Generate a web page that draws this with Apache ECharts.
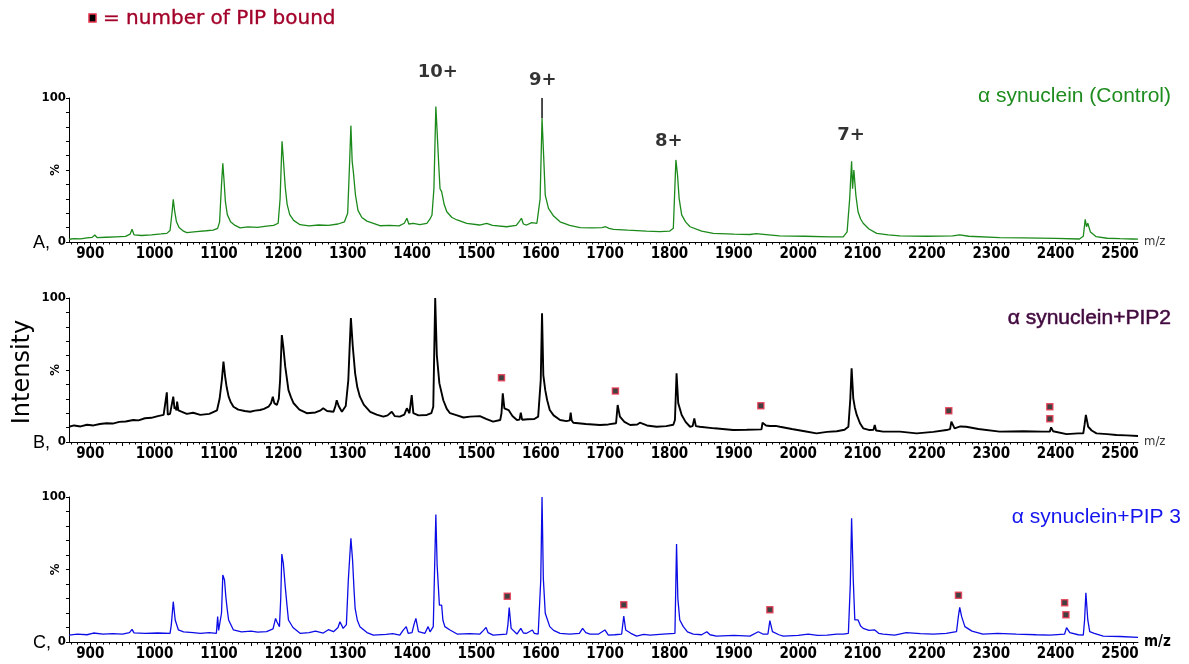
<!DOCTYPE html>
<html>
<head>
<meta charset="utf-8">
<title>alpha synuclein + PIP</title>
<script src="https://cdn.jsdelivr.net/npm/echarts@6/dist/echarts.min.js"></script>
<style>
  html, body { margin: 0; padding: 0; background: #fff; }
  #chart { width: 1189px; height: 664px; }
</style>
</head>
<body>
<div id="chart"></div>
<script>
// axis labels
var xLabels = [900, 1000, 1100, 1200, 1300, 1400, 1500, 1600, 1700, 1800, 1900, 2000, 2100, 2200, 2300, 2400, 2500];
var yLabels = [0, 100];

var panelNames = ['α synuclein (Control)', 'α synuclein+PIP2', 'α synuclein+PIP 3'];
var panelLetters = ['A,', 'B,', 'C,'];

// spectra: [m/z, % intensity]
var specA = [
  [867,1.9],[875,2.4],[885,2.1],[895,2.8],[903,3.2],[907,4.9],[911,3.0],[925,3.3],[940,3.6],[955,3.9],[962,5.5],[965,8.8],[968,5.0],
  [980,4.5],[995,5.0],[1010,5.6],[1019,6.0],[1024,8],[1027,20],[1029,29.6],[1031,22],[1034,14],[1038,10],[1045,7.5],[1050,6.5],
  [1065,7.2],[1080,7.8],[1091,8.3],[1098,9.5],[1101,14],[1104,40],[1106,54.6],[1108,42],[1110,28],[1113,19],[1118,14],[1125,11.5],
  [1133,9.8],[1145,10.5],[1160,10.2],[1174,11],[1185,11.5],[1192,13],[1195,30],[1198,70],[1200,58],[1203,38],[1206,26],[1210,19],
  [1216,15],[1226,12],[1240,11.2],[1255,11.8],[1270,11.5],[1285,12.5],[1295,14],[1300,20],[1303,55],[1305,80.8],[1307,56],[1309,48],
  [1312,33],[1316,22],[1322,17],[1330,14.5],[1340,13],[1350,11.3],[1365,11.6],[1380,11.2],[1388,13],[1392,16.5],[1395,12.5],[1402,13],
  [1412,12],[1423,13],[1428,16],[1431,18.8],[1434,37],[1437,94],[1439,76.6],[1441.5,53.5],[1443.5,37],[1446,35],[1450,26],[1454,21],
  [1462,17],[1470,15.3],[1485,13],[1505,11.8],[1516,13],[1525,11.5],[1547,10.6],[1562,11.5],[1567,14.5],[1570,16.5],[1573,12.5],
  [1578,11.8],[1586,13.5],[1594,13],[1599,30],[1602,86],[1604,65],[1607,32.6],[1612,23.4],[1620,18],[1630,14],[1645,11.5],[1661,10],
  [1680,9.8],[1695,10],[1701,10.6],[1706,9.5],[1713,8.8],[1735,8.2],[1764,7.6],[1785,7.2],[1800,7.5],[1806,9.5],[1810,57],[1812.5,46.5],
  [1815,30.3],[1819,18.8],[1825,14],[1832,10.6],[1850,7.5],[1868,6],[1900,5.5],[1925,5.2],[1935,5.8],[1938,6.5],[1942,5.5],[1971,4.2],
  [2010,4],[2049,3.5],[2070,3.6],[2076,7],[2080,30],[2083,56],[2084.5,37],[2086.5,50],[2089.6,32.6],[2093,21],[2097,16],[2101,13],
  [2110,9],[2122,6],[2140,5],[2158,4.2],[2200,4],[2240,4.3],[2251,4.9],[2265,4],[2313,3],[2350,2.8],[2400,2.5],[2437,2.1],[2443,4],
  [2446,15.7],[2448,10.6],[2450,13],[2454,7],[2458,5.5],[2463,3.7],[2480,2.6],[2500,2.3],[2520,2.1],[2528,2.0]
];
var tipA = [[1602, 86], [1602, 100]]; // black top of the 9+ peak

var specB = [
  [867,10.6],[875,11.5],[885,10.8],[895,12],[905,11.5],[915,12.5],[925,13],[935,12.8],[945,14],[955,14.2],[967,15.3],[975,15],
  [985,16.5],[995,16.8],[1005,18],[1014,18.8],[1017,20],[1019,34.5],[1020.5,19],[1024,19.5],[1027,20],[1029,31.5],[1031,23],
  [1032,24.5],[1034,22],[1035,28],[1037,22],[1040,21],[1050,19.5],[1060,20.3],[1071,18.8],[1085,19.5],[1097,22],[1101,30],
  [1104.5,43],[1107,55.8],[1109.6,45.4],[1112,38],[1115,31.5],[1118,28],[1122.5,24.5],[1130,22.5],[1140,21.5],[1148.5,21],
  [1156,21.8],[1164,22.2],[1170,23],[1177,24.5],[1181,27],[1183.7,31.5],[1186,27],[1190,25.7],[1193,30],[1195,43],[1197.7,74.3],
  [1200,66],[1203,52.3],[1208,36],[1212,31],[1216,26.9],[1225,22.5],[1236.5,20],[1250,20.5],[1258,22],[1262,23.4],[1268,21.5],
  [1278,21],[1281,25],[1283,29],[1286,25],[1291,21],[1297,25],[1301,43],[1303,65],[1305,86],[1308,66],[1311.6,47.7],[1315,38],
  [1319,31.5],[1325,26],[1335,21],[1345,19],[1355.5,17.6],[1362,18.5],[1368.5,21],[1373,18],[1381,17.6],[1388,19],[1392,23.4],
  [1396,20],[1399.5,32.6],[1402,20],[1410,18.5],[1423,18.8],[1430,20],[1433,24.5],[1436,100],[1438.5,60.4],[1442.5,40.7],
  [1448.6,29],[1454,23],[1459,20],[1470,18.5],[1480,17],[1490,17.6],[1505.5,18],[1515,16],[1526,14.1],[1537,15.3],[1539,20],
  [1541,33.8],[1543.5,23.4],[1550,22.2],[1556,18],[1563,15.3],[1567,15.5],[1569,20.4],[1571,15.5],[1580,15.8],[1590,16],
  [1596,17.6],[1600,43],[1602,89.4],[1604,46.5],[1607,36],[1610,29],[1614,22.2],[1620,18.5],[1630,15.3],[1640,14.5],[1645,15],
  [1646.5,20.4],[1648,15],[1650.6,13.4],[1670,12.5],[1692,11.8],[1705,12.2],[1717,13],[1719.5,25.7],[1723,17.6],[1730,14],
  [1739,11.8],[1750,12.2],[1754,13.4],[1765,11.5],[1780,10.6],[1795,11],[1806,12],[1808.5,15.3],[1811,47.7],[1813.6,27],
  [1819,18.8],[1825,14],[1832,10.6],[1836,11],[1838.6,16.4],[1841,11],[1847,10.6],[1870,9.5],[1899,8.3],[1920,8.5],[1943,8.8],
  [1944.6,13.4],[1950,11.5],[1956,11.1],[1965,11.2],[1971.6,10.6],[1990,9],[2010,7.5],[2028.5,6],[2045,7],[2060,7.5],[2072,8.5],
  [2078,10.6],[2081,30],[2083,51.2],[2085.6,30.3],[2088,24],[2091,18.8],[2096,13],[2101,9.5],[2111,8.3],[2117,8.5],[2119,11.8],
  [2121,8],[2132,7.2],[2158,7.2],[2184,6],[2210,7],[2230.5,8.3],[2236,9],[2238,14.1],[2243,9.5],[2252,10.8],[2261,10.6],[2280,9],
  [2313,7.2],[2350,7.5],[2380,7.2],[2391,7.2],[2393,10.2],[2396,7.5],[2417,5.5],[2435,6],[2443,6],[2445,12],[2447,18.8],
  [2450.6,10.6],[2456,8],[2463.5,6],[2480,5.5],[2494.6,4.9],[2510,4.6],[2528,4.2]
];

var specC = [
  [867,4.8],[880,5.5],[895,5.0],[905,6.2],[920,5.4],[935,5.8],[950,5.5],[961,6.5],[965,8.7],[968,6.3],[985,6],[1005,6.2],[1024,6],
  [1026,12],[1029,27.8],[1032,15.2],[1037,8.3],[1045,7],[1060,6.5],[1071,6],[1085,6.4],[1096,6],[1098,17.5],[1099.5,8],[1101,7.1],
  [1104,20],[1106,46.2],[1108.6,42.8],[1110.7,31.2],[1113,22],[1115,15.2],[1122.5,8.3],[1135,7],[1150,7.5],[1160,6.8],[1174,7.1],
  [1184,9],[1188,16.3],[1190,14],[1194,10.6],[1196,30],[1197.7,60.7],[1200,54.3],[1203,38.2],[1206,24],[1208,15.2],[1215,10],
  [1226,6],[1240,6.5],[1250,7.5],[1262,6.2],[1270,8.5],[1278,7.1],[1285,10],[1288,14],[1293,9.4],[1298,12],[1301,42.8],[1305,71.5],
  [1307.6,56.6],[1310,35],[1311.6,23.2],[1315,15],[1319,10.6],[1330,6.5],[1340,4.8],[1360,5.2],[1370,5.8],[1381,4.8],[1386,8],
  [1391,10.6],[1394,6],[1400,6.5],[1403,12],[1406,16.3],[1410,7.1],[1420,6],[1425,10.6],[1428,7],[1433,10.6],[1437,88],[1439,53.1],
  [1442.5,25.5],[1446,25.5],[1448,15],[1451,10.6],[1459,8.3],[1470,5.5],[1490,5.8],[1505.5,5.5],[1511,8],[1515,10.1],[1518,6.5],
  [1526,4.8],[1547,5.5],[1549,12],[1551,23.7],[1554,9.4],[1563,5.5],[1569,9.4],[1573,6.2],[1578,6],[1587,8.3],[1590,6],[1596,5.5],
  [1600,42.8],[1602,100],[1604,43.9],[1607,19.8],[1610,19.8],[1614,10.6],[1620,8],[1630,6],[1645,5.5],[1660,6],[1665,9.4],
  [1670,6.5],[1676.5,5.5],[1690,5.5],[1699.7,8.3],[1705,4.8],[1715,5],[1725.7,5.5],[1729,17.9],[1732,8.3],[1740,6],[1749,4.1],
  [1760,5.2],[1770,4.8],[1790,5.5],[1808.5,6],[1811,67.6],[1813,30.1],[1816,15.2],[1821.5,10.6],[1828,7],[1837,5.5],[1850,5],
  [1858,7.1],[1863,5],[1873,4.1],[1900,4.5],[1925,4.1],[1938,7.1],[1945,5.5],[1953,5.5],[1956,14.7],[1960,7.1],[1970,5],[1977,4.1],
  [2000,4.5],[2015.5,5.5],[2030,4.5],[2045,4.8],[2060,5.5],[2070,5.5],[2078,6],[2081,40],[2083,85.3],[2085.6,42.8],[2088,15.2],
  [2093,15.2],[2097,11],[2101,9.4],[2110,8],[2119,8.3],[2125,6],[2132,5.5],[2150,4.8],[2168,6.4],[2190,5.8],[2210,5.5],[2230,6],
  [2246,7.1],[2249,18],[2251,23.9],[2254,17.5],[2259,10.6],[2270,7.5],[2287,5.5],[2310,6],[2339,5.5],[2370,5],[2391,4.8],
  [2414,5.5],[2417,9.9],[2422,6.4],[2435,5],[2443,4.8],[2445,15],[2447,34],[2450,15.2],[2453,7.1],[2460,6],[2474,4.1],[2500,3.8],
  [2528,3.2]
];

// charge states over the control spectrum
var chargeStates = ['10+', '9+', '8+', '7+'];
var chargePos = [[1440, 118], [1603, 112], [1799, 70], [2082, 74]];

// "number of PIP bound" squares
var pipB = [[1539, 44.7], [1716, 35.4], [1942, 25.2], [2234, 21.7], [2391, 24.5], [2391, 16.2]];
var pipC = [[1548, 31.5], [1729, 25.7], [1956, 22.3], [2249, 32.2], [2414, 27.1], [2416, 18.8]];

var XMIN = 867, XMAX = 2528;
var narrow = "'Liberation Sans Narrow', 'DejaVu Sans Condensed', 'Liberation Sans', sans-serif";
var arial = "'Liberation Sans', Arial, sans-serif";

var ticks50 = [], ticks10 = [], yTicks = [];
for (var t = 870; t <= 2520; t += 10) {
  if (t % 50 === 0) ticks50.push(t); else ticks10.push(t);
}
for (var k = 0; k <= 100; k += 10) yTicks.push(k);

var gridTops = [98, 298, 497];
var gridHeights = [144, 144, 145];
var lineColors = ['#1b8a1b', '#000000', '#0c0ce6'];
var lineWidths = [1.3, 1.9, 1.3];
var titleColors = ['#1e8c1e', '#3e0c3c', '#1414ee'];
var titleY = [96, 318, 517];

function plain(v) { return String(v); }

var grids = [], xAxes = [], yAxes = [];
gridTops.forEach(function (top, i) {
  grids.push({ left: 69, width: 1069, top: top, height: gridHeights[i] });
  var last = i === 2;
  xAxes.push({
    type: 'value', gridIndex: i, position: 'bottom', min: XMIN, max: XMAX,
    axisLine: { onZero: false, lineStyle: { color: '#000', width: 1 } },
    axisTick: { customValues: ticks50, length: 4, lineStyle: { color: '#000' } },
    axisLabel: { customValues: xLabels, formatter: plain, color: '#000', fontWeight: 'bold', fontSize: 15,
                 fontFamily: narrow, margin: 5 },
    splitLine: { show: false },
    name: 'm/z', nameLocation: 'end', nameGap: 6,
    nameTextStyle: last
      ? { color: '#000', fontWeight: 'bold', fontSize: 15, fontFamily: narrow }
      : { color: '#333', fontSize: 13, fontFamily: narrow }
  });
  xAxes.push({
    type: 'value', gridIndex: i, position: 'bottom', min: XMIN, max: XMAX,
    axisLine: { show: false },
    axisTick: { customValues: ticks10, length: 2.5, lineStyle: { color: '#000' } },
    axisLabel: { show: false },
    splitLine: { show: false }
  });
  yAxes.push({
    type: 'value', gridIndex: i, position: 'left', min: 0, max: 100,
    axisLine: { show: true, lineStyle: { color: '#000', width: 1 } },
    axisTick: { show: true, customValues: yTicks, length: 3, lineStyle: { color: '#000' } },
    axisLabel: { customValues: yLabels, formatter: plain, color: '#000', fontWeight: 'bold', fontSize: 13,
                 fontFamily: narrow, margin: 3 },
    splitLine: { show: false },
    name: '%', nameLocation: 'middle', nameGap: 7, nameRotate: 90, nameMoveOverlap: false,
    nameTextStyle: { color: '#000', fontWeight: 'bold', fontSize: 13, fontFamily: narrow }
  });
});

function spectrum(data, i) {
  return {
    type: 'line', xAxisIndex: i * 2, yAxisIndex: i, data: data,
    showSymbol: false, symbol: 'none', clip: true,
    lineStyle: { color: lineColors[i], width: lineWidths[i] }
  };
}
function pipSeries(data, i) {
  return {
    type: 'scatter', xAxisIndex: i * 2, yAxisIndex: i, data: data,
    symbol: 'rect', symbolSize: 6, clip: false, z: 5,
    itemStyle: { color: '#111', borderColor: '#e8324c', borderWidth: 1.5 }
  };
}

var series = [
  spectrum(specA, 0),
  { type: 'line', xAxisIndex: 0, yAxisIndex: 0, data: tipA, symbol: 'none', lineStyle: { color: '#000', width: 1.4 } },
  spectrum(specB, 1),
  spectrum(specC, 2),
  pipSeries(pipB, 1),
  pipSeries(pipC, 2),
  {
    type: 'scatter', xAxisIndex: 0, yAxisIndex: 0, symbolSize: 0, clip: false,
    data: chargeStates.map(function (s, j) { return { name: s, value: chargePos[j] }; }),
    label: {
      show: true, position: 'inside', formatter: '{b}', color: '#000',
      fontWeight: 'bold', fontSize: 18, fontFamily: "'DejaVu Sans', sans-serif"
    }
  }
];

var graphics = [
  { type: 'rect', shape: { x: 89, y: 14, width: 7, height: 8 },
    style: { fill: '#000', stroke: '#e8324c', lineWidth: 1.5 } },
  { type: 'text', x: 103, y: 19,
    style: { text: '= number of PIP bound', fill: '#a0002a', font: "20px 'DejaVu Sans', sans-serif",
             stroke: '#c0304a', lineWidth: 0.4, align: 'left', verticalAlign: 'middle' } },
  { type: 'text', x: 23, y: 372, rotation: Math.PI / 2,
    style: { text: 'Intensity', fill: '#000', font: "24px 'DejaVu Sans', sans-serif",
             align: 'center', verticalAlign: 'middle' } }
];
panelNames.forEach(function (name, i) {
  graphics.push({ type: 'text', x: i === 2 ? 1181 : 1171, y: titleY[i],
    style: { text: name, fill: titleColors[i], font: '21px ' + arial, align: 'right', verticalAlign: 'middle',
             stroke: i === 1 ? '#6a1f60' : null, lineWidth: i === 1 ? 0.6 : 0 } });
  graphics.push({ type: 'text', x: 33, y: gridTops[i] + gridHeights[i] + 1,
    style: { text: panelLetters[i], fill: '#000', font: '18px ' + arial, align: 'left', verticalAlign: 'middle' } });
});

var chart = echarts.init(document.getElementById('chart'));
chart.setOption({
  animation: false,
  backgroundColor: '#fff',
  grid: grids,
  xAxis: xAxes,
  yAxis: yAxes,
  series: series,
  graphic: graphics
});
</script>
</body>
</html>
